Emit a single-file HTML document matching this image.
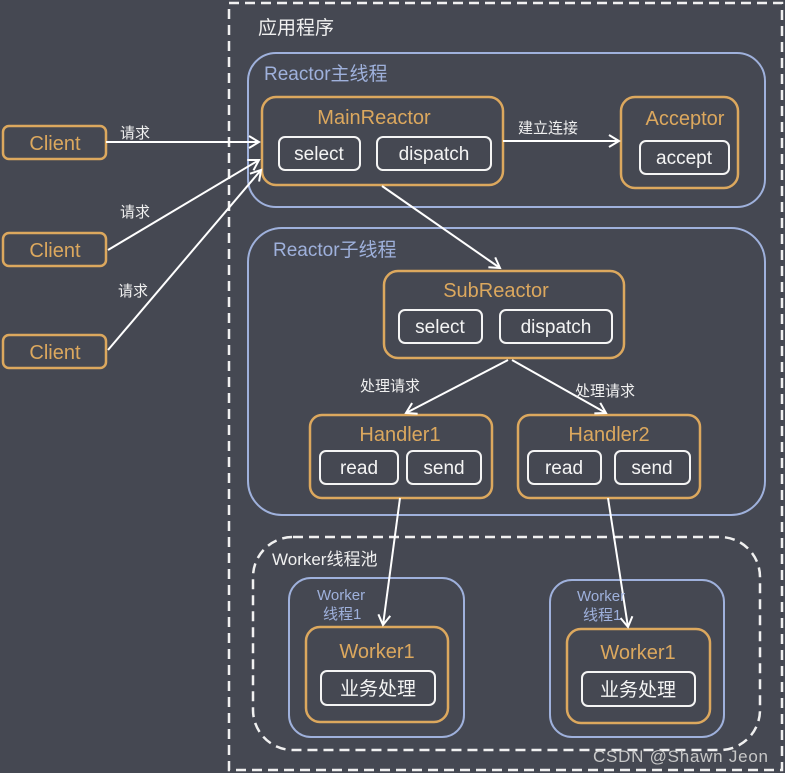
<!DOCTYPE html>
<html><head><meta charset="utf-8"><style>
html,body{margin:0;padding:0;background:#454852;}
svg{display:block;font-family:"Liberation Sans","Noto Sans CJK SC",sans-serif;}
</style></head><body>
<svg width="785" height="773" viewBox="0 0 785 773" xmlns="http://www.w3.org/2000/svg">
<defs>
<marker id="a" markerWidth="14" markerHeight="14" refX="11" refY="7" orient="auto" markerUnits="userSpaceOnUse">
<path d="M1,1 L11,7 L1,13" fill="none" stroke="#fff" stroke-width="2"/>
</marker>
</defs>
<rect width="785" height="773" fill="#454852"/>
<g fill="none" stroke="#f0f0f0" stroke-width="2.5" stroke-dasharray="10,6">
<rect x="229" y="3" width="553" height="767"/>
<rect x="253" y="537" width="507" height="213" rx="40"/>
</g>
<g fill="none" stroke="#9fb1dc" stroke-width="2">
<rect x="248" y="53" width="517" height="154" rx="28"/>
<rect x="248" y="228" width="517" height="287" rx="34"/>
<rect x="289" y="578" width="175" height="159" rx="22"/>
<rect x="550" y="580" width="174" height="157" rx="22"/>
</g>
<g fill="none" stroke="#dca85e" stroke-width="2.5">
<rect x="3" y="126" width="103" height="33" rx="6"/>
<rect x="3" y="233" width="103" height="33" rx="6"/>
<rect x="3" y="335" width="103" height="33" rx="6"/>
<rect x="262" y="97" width="241" height="88" rx="14"/>
<rect x="621" y="97" width="117" height="91" rx="14"/>
<rect x="384" y="271" width="240" height="87" rx="14"/>
<rect x="310" y="415" width="182" height="83" rx="12"/>
<rect x="518" y="415" width="182" height="83" rx="12"/>
<rect x="306" y="627" width="142" height="95" rx="14"/>
<rect x="567" y="629" width="143" height="94" rx="14"/>
</g>
<g fill="none" stroke="#f4f4f4" stroke-width="2">
<rect x="279" y="137" width="81" height="33" rx="6"/>
<rect x="377" y="137" width="114" height="33" rx="6"/>
<rect x="640" y="141" width="89" height="33" rx="6"/>
<rect x="399" y="310" width="83" height="33" rx="6"/>
<rect x="500" y="310" width="112" height="33" rx="6"/>
<rect x="320" y="451" width="78" height="33" rx="6"/>
<rect x="407" y="451" width="74" height="33" rx="6"/>
<rect x="528" y="451" width="73" height="33" rx="6"/>
<rect x="615" y="451" width="75" height="33" rx="6"/>
<rect x="321" y="671" width="114" height="34" rx="6"/>
<rect x="582" y="672" width="113" height="34" rx="6"/>
</g>
<g stroke="#fff" stroke-width="2" marker-end="url(#a)">
<line x1="106" y1="142" x2="259" y2="142"/>
<line x1="108" y1="250" x2="259" y2="160"/>
<line x1="108" y1="350" x2="261" y2="170"/>
<line x1="503" y1="141" x2="619" y2="141"/>
<line x1="382" y1="186" x2="500" y2="268"/>
<line x1="508" y1="360" x2="406" y2="413"/>
<line x1="512" y1="360" x2="606" y2="413"/>
<line x1="400" y1="498" x2="383" y2="625"/>
<line x1="608" y1="498" x2="628" y2="627"/>
</g>
<g font-size="15" fill="#f0f0f0">
<text x="120" y="138">请求</text>
<text x="120" y="217">请求</text>
<text x="118" y="296">请求</text>
<text x="518" y="133">建立连接</text>
<text x="360" y="391">处理请求</text>
<text x="575" y="396">处理请求</text>
</g>
<text x="258" y="34" font-size="19" fill="#f0f0f0">应用程序</text>
<g fill="#9fb1dc">
<text x="264" y="80" font-size="19">Reactor主线程</text>
<text x="273" y="256" font-size="19">Reactor子线程</text>
<text x="317" y="600" font-size="15">Worker</text>
<text x="323" y="619" font-size="15">线程1</text>
<text x="577" y="601" font-size="15">Worker</text>
<text x="583" y="620" font-size="15">线程1</text>
</g>
<text x="272" y="565" font-size="17" fill="#f0f0f0">Worker线程池</text>
<g fill="#dca85e" font-size="20" text-anchor="middle">
<text x="55" y="150">Client</text>
<text x="55" y="257">Client</text>
<text x="55" y="359">Client</text>
<text x="374" y="124">MainReactor</text>
<text x="685" y="125">Acceptor</text>
<text x="496" y="297">SubReactor</text>
<text x="400" y="441">Handler1</text>
<text x="609" y="441">Handler2</text>
<text x="377" y="658">Worker1</text>
<text x="638" y="659">Worker1</text>
</g>
<g fill="#f4f4f4" font-size="19" text-anchor="middle">
<text x="319" y="160">select</text>
<text x="434" y="160">dispatch</text>
<text x="684" y="164">accept</text>
<text x="440" y="333">select</text>
<text x="556" y="333">dispatch</text>
<text x="359" y="474">read</text>
<text x="444" y="474">send</text>
<text x="564" y="474">read</text>
<text x="652" y="474">send</text>
<text x="378" y="695">业务处理</text>
<text x="638" y="696">业务处理</text>
</g>
<text x="593" y="762" font-size="17" fill="#c8c8c8" textLength="175">CSDN @Shawn Jeon</text>
</svg>
</body></html>
